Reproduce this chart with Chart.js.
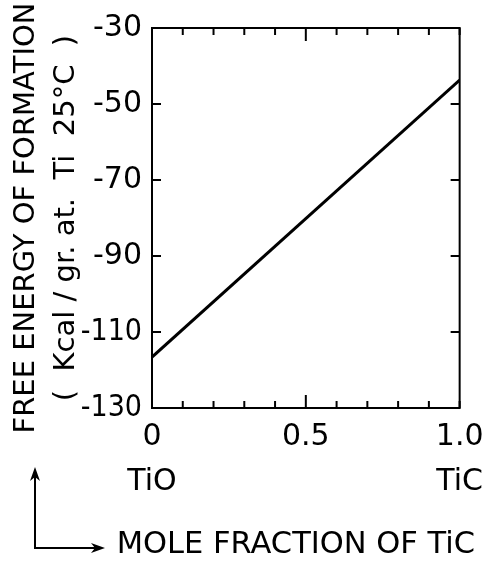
<!DOCTYPE html>
<html><head><meta charset="utf-8">
<script src="https://cdn.jsdelivr.net/npm/chart.js@4.4.1/dist/chart.umd.min.js"></script>
<style>html,body{margin:0;padding:0;background:#fff;} canvas{display:block;}</style>
</head><body>
<canvas id="c" width="490" height="563"></canvas>
<script>
// ---- data ----
const moleFraction = [0, 1];
const freeEnergy = [-116.6, -43.7];
const xTickValues = [0, 0.5, 1];
const xTickLabels = ['0', '0.5', '1.0'];
const xEndLabels = ['TiO', '', 'TiC'];
const xMinorTicks = [0, 0.1, 0.2, 0.3, 0.4, 0.5, 0.6, 0.7, 0.8, 0.9, 1.0];
const yTickValues = [-30, -50, -70, -90, -110, -130];
const yTickLabels = ['-30', '-50', '-70', '-90', '-110', '-130'];
const yTitle = ['FREE ENERGY OF FORMATION', '(  Kcal / gr. at.  Ti  25°C  )'];
const xTitle = 'MOLE FRACTION OF TiC';

const FONT = 'DejaVu Sans';
const FONT_COND = "'DejaVu Sans Condensed', 'DejaVu Sans'";

const framePlugin = {
  id: 'frame',
  beforeDatasetsDraw(chart) {
    const {ctx, chartArea: {left, right, top, bottom}, scales: {x, y}} = chart;
    ctx.save();
    ctx.strokeStyle = '#000';
    ctx.lineWidth = 2;
    ctx.strokeRect(left, top, right - left, bottom - top);
    const seg = (x1, y1, x2, y2) => { ctx.beginPath(); ctx.moveTo(x1, y1); ctx.lineTo(x2, y2); ctx.stroke(); };
    yTickValues.forEach(v => {
      const py = y.getPixelForValue(v);
      seg(left, py, left + 9, py);
      seg(right, py, right - 9, py);
    });
    xMinorTicks.forEach(v => {
      const px = x.getPixelForValue(v);
      const len = Math.abs(v - 0.5) < 1e-9 ? 13 : 7;
      seg(px, bottom, px, bottom - len);
      seg(px, top, px, top + len);
    });
    ctx.restore();
  },
  afterDraw(chart) {
    const {ctx, chartArea: {left, bottom}} = chart;
    const ax = left - 117, topY = bottom + 59, cy = bottom + 140, endX = left - 47;
    ctx.save();
    ctx.strokeStyle = '#000';
    ctx.fillStyle = '#000';
    ctx.lineWidth = 2;
    ctx.beginPath();
    ctx.moveTo(ax, topY + 4);
    ctx.lineTo(ax, cy);
    ctx.lineTo(endX - 4, cy);
    ctx.stroke();
    ctx.beginPath();
    ctx.moveTo(ax, topY);
    ctx.lineTo(ax - 5, topY + 14);
    ctx.lineTo(ax, topY + 10);
    ctx.lineTo(ax + 5, topY + 14);
    ctx.closePath();
    ctx.fill();
    ctx.beginPath();
    ctx.moveTo(endX, cy);
    ctx.lineTo(endX - 14, cy - 5);
    ctx.lineTo(endX - 10, cy);
    ctx.lineTo(endX - 14, cy + 5);
    ctx.closePath();
    ctx.fill();
    ctx.restore();
  }
};

new Chart(document.getElementById('c'), {
  type: 'line',
  data: {
    datasets: [{
      data: moleFraction.map((m, i) => ({x: m, y: freeEnergy[i]})),
      borderColor: '#000',
      borderWidth: 3,
      pointRadius: 0,
      tension: 0,
      fill: false
    }]
  },
  options: {
    responsive: false,
    animation: false,
    events: [],
    layout: {padding: {left: 0, right: 15, top: 26, bottom: 0}},
    plugins: {
      legend: {display: false},
      tooltip: {enabled: false},
      title: {
        display: true,
        position: 'bottom',
        align: 'end',
        text: xTitle,
        color: '#000',
        font: {family: FONT, size: 30.5, weight: 'normal', lineHeight: 1.2},
        padding: {top: 0, bottom: 0}
      }
    },
    scales: {
      x: {
        type: 'linear',
        min: 0, max: 1,
        afterBuildTicks: s => { s.ticks = xTickValues.map(v => ({value: v})); },
        afterFit: s => { s.height = 563 - 408 - 36.6; },
        grid: {display: false, drawTicks: false},
        border: {display: false},
        ticks: {
          autoSkip: false,
          maxRotation: 0,
          padding: 6.5,
          color: '#000',
          font: {family: FONT, size: 30, lineHeight: 1.5},
          callback: (v) => {
            const k = xTickValues.indexOf(v);
            return k < 0 ? '' : [xTickLabels[k], xEndLabels[k]];
          }
        }
      },
      y: {
        type: 'linear',
        min: -130, max: -30,
        afterBuildTicks: s => { s.ticks = yTickValues.map(v => ({value: v})); },
        afterFit: s => { s.width = 152; },
        grid: {display: false, drawTicks: false},
        border: {display: false},
        ticks: {
          padding: 10,
          color: '#000',
          font: c => (c.tick && Math.abs(c.tick.value) >= 100)
            ? {family: FONT_COND, size: 30}
            : {family: FONT, size: 30},
          callback: v => {
            const k = yTickValues.indexOf(v);
            return k < 0 ? '' : yTickLabels[k];
          }
        },
        title: {
          display: true,
          text: yTitle,
          color: '#000',
          font: {family: FONT, size: 29, lineHeight: 1.38},
          padding: {top: 6, bottom: 0}
        }
      },
      yRight: {
        type: 'linear',
        position: 'right',
        min: -130, max: -30,
        afterFit: s => { s.width = 13; },
        grid: {display: false, drawTicks: false},
        border: {display: false},
        ticks: {display: false}
      }
    }
  },
  plugins: [framePlugin]
});
</script>
</body></html>
